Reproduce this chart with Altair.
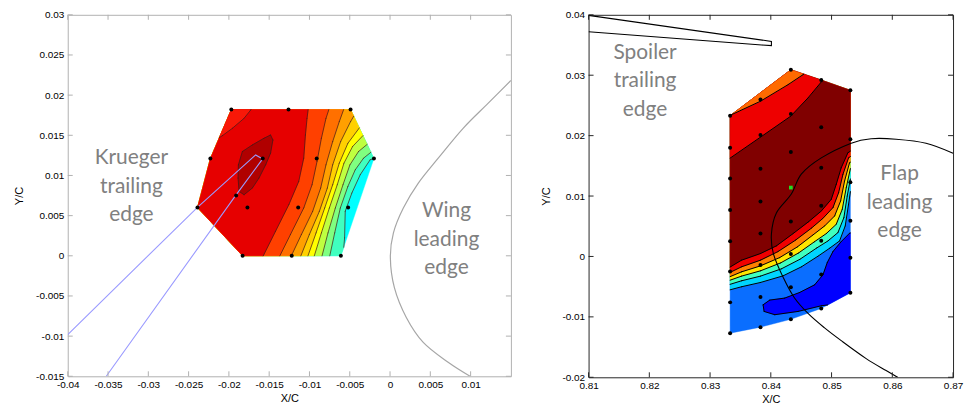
import altair as alt
import pandas as pd

# ======================= LEFT PANEL (Krueger / wing) =======================
L_X_DOMAIN = [-0.04, 0.015]
L_Y_DOMAIN = [-0.015, 0.03]
L_X_TICKS = [-0.04, -0.035, -0.03, -0.025, -0.02, -0.015, -0.01, -0.005, 0, 0.005, 0.01]
L_Y_TICKS = [-0.015, -0.01, -0.005, 0, 0.005, 0.01, 0.015, 0.02, 0.025, 0.03]

L_POINT_X = [-0.0197, -0.0126, -0.0049, -0.0223, -0.0158, -0.0091, -0.0020,
             -0.0239, -0.0177, -0.0114, -0.0052, -0.0183, -0.0122, -0.0061]
L_POINT_Y = [0.0182, 0.0182, 0.0182, 0.0121, 0.0121, 0.0121, 0.0121,
             0.0060, 0.0060, 0.0060, 0.0060, 0.0, 0.0, 0.0]
L_EXTRA_X = [-0.0191]
L_EXTRA_Y = [0.0075]

L1_X = [-0.01606, -0.01421, -0.01256, -0.01133, -0.01071, -0.01050, -0.01030, -0.01009]
L1_Y = [-0.00066, 0.00306, 0.00636, 0.00926, 0.01215, 0.01504, 0.01711, 0.01876]
L2_X = [-0.01400, -0.01236, -0.01071, -0.00968, -0.00906, -0.00852, -0.00795, -0.00741]
L2_Y = [-0.00066, 0.00265, 0.00595, 0.00884, 0.01174, 0.01463, 0.01711, 0.01876]
L3_X = [-0.01256, -0.01100, -0.00960, -0.00861, -0.00795, -0.00712, -0.00630, -0.00556]
L3_Y = [-0.00066, 0.00265, 0.00554, 0.00843, 0.01132, 0.01422, 0.01670, 0.01876]
L4_X = [-0.01133, -0.01001, -0.00877, -0.00778, -0.00712, -0.00613, -0.00490, -0.00370]
L4_Y = [-0.00066, 0.00265, 0.00554, 0.00843, 0.01132, 0.01422, 0.01670, 0.01876]
L5_X = [-0.01042, -0.00918, -0.00811, -0.00712, -0.00630, -0.00523, -0.00370, -0.00226]
L5_Y = [-0.00066, 0.00285, 0.00595, 0.00884, 0.01153, 0.01401, 0.01607, 0.01731]
L6_X = [-0.00960, -0.00852, -0.00753, -0.00655, -0.00572, -0.00465, -0.00329, -0.00185]
L6_Y = [-0.00066, 0.00285, 0.00595, 0.00884, 0.01153, 0.01360, 0.01504, 0.01587]
L7_X = [-0.00861, -0.00770, -0.00679, -0.00584, -0.00498, -0.00391, -0.00267, -0.00123]
L7_Y = [-0.00066, 0.00285, 0.00595, 0.00884, 0.01132, 0.01298, 0.01401, 0.01463]
L8_X = [-0.00762, -0.00687, -0.00617, -0.00523, -0.00432, -0.00329, -0.00226, -0.00082]
L8_Y = [-0.00066, 0.00285, 0.00595, 0.00864, 0.01070, 0.01215, 0.01298, 0.01339]
L9_X = [-0.00589, -0.00564, -0.00556, -0.00474, -0.00370, -0.00247, -0.00061]
L9_Y = [-0.00066, 0.00223, 0.00554, 0.00781, 0.01009, 0.01195, 0.01257]
L_CORNER_X = [-0.02163, -0.02080, -0.01957, -0.01812, -0.01730, -0.01689]
L_CORNER_Y = [0.01442, 0.01496, 0.01587, 0.01711, 0.01814, 0.01897]
L_BLOB_X = [-0.01882, -0.01833, -0.01709, -0.01565, -0.01483, -0.01454, -0.01483,
            -0.01544, -0.01627, -0.01709, -0.01812, -0.01874, -0.01886]
L_BLOB_Y = [0.01132, 0.01298, 0.01380, 0.01463, 0.01504, 0.01442, 0.01277,
            0.01132, 0.00967, 0.00843, 0.00760, 0.00802, 0.00967]

L_BAND_COLORS = ["#00ffff", "#40ffbf", "#80ff80", "#bfff40", "#ffff00", "#ffd000",
                 "#ffa000", "#ff7000", "#ff4000", "#e60000"]
L_CORNER_COLOR = "#f81808"
L_BLOB_COLOR = "#b00000"

WING_X = [0.0150, 0.01216, 0.00907, 0.00598, 0.00351, 0.00165, 0.00042, 0.00004,
          0.00054, 0.00202, 0.00412, 0.00721, 0.00993]
WING_Y = [0.02182, 0.01897, 0.01587, 0.01215, 0.00905, 0.00595, 0.00285, -0.00025,
          -0.00397, -0.00768, -0.01078, -0.01326, -0.0150]
KRUEGER_UP_X = [-0.0400, -0.02390, -0.01668, -0.01581]
KRUEGER_UP_Y = [-0.0098, 0.00604, 0.01256, 0.01206]
KRUEGER_LO_X = [-0.03522, -0.01915, -0.01581]
KRUEGER_LO_Y = [-0.0150, 0.00753, 0.01206]

L_TEXT = ["Krueger", "trailing", "edge", "Wing", "leading", "edge"]
L_TEXT_X = [-0.0321, -0.0321, -0.0321, 0.0070, 0.0070, 0.0070]
L_TEXT_Y = [0.01215, 0.00862, 0.00508, 0.00554, 0.00202, -0.00149]

# ======================= RIGHT PANEL (spoiler / flap) =======================
R_X_DOMAIN = [0.81, 0.87]
R_Y_DOMAIN = [-0.02, 0.04]
R_X_TICKS = [0.81, 0.82, 0.83, 0.84, 0.85, 0.86, 0.87]
R_Y_TICKS = [-0.02, -0.01, 0, 0.01, 0.02, 0.03, 0.04]

R_POINT_X = ([0.8333] * 8 + [0.8383] * 8 + [0.8433] * 7 + [0.8483] * 7 + [0.8531] * 6)
R_POINT_Y = ([0.0233, 0.0180, 0.0129, 0.0077, 0.0025, -0.0025, -0.0076, -0.0127] +
             [0.0260, 0.0201, 0.0145, 0.0091, 0.0038, -0.0014, -0.0067, -0.0117] +
             [0.0309, 0.0236, 0.0173, 0.0058, 0.0004, -0.0051, -0.0104] +
             [0.0292, 0.0214, 0.0147, 0.0084, 0.0026, -0.0030, -0.0086] +
             [0.0275, 0.0194, 0.0123, 0.0059, -0.0002, -0.0060])
R_GREEN_X = [0.8433]
R_GREEN_Y = [0.0114]

R_TOP_O_X = [0.83299, 0.83829, 0.84284, 0.84530, 0.84612]
R_TOP_O_Y = [0.02321, 0.02569, 0.02844, 0.03009, 0.03064]
R_TOP_R_X = [0.83299, 0.83829, 0.84327, 0.84612, 0.84831, 0.84995]
R_TOP_R_Y = [0.01606, 0.01974, 0.02321, 0.02624, 0.02888, 0.03064]
D1_X = [0.83271, 0.83517, 0.83829, 0.84092, 0.84366, 0.84623, 0.84831, 0.84995, 0.85077, 0.85159, 0.85269, 0.85378]
D1_Y = [-0.00211, -0.00062, 0.00048, 0.00175, 0.00378, 0.00576, 0.00752, 0.00945, 0.01193, 0.01468, 0.01716, 0.01787]
D2_X = [0.83271, 0.83517, 0.83829, 0.84119, 0.84404, 0.84667, 0.84858, 0.85023, 0.85116, 0.85187, 0.85280, 0.85378]
D2_Y = [-0.00293, -0.00172, -0.00062, 0.00081, 0.00268, 0.00467, 0.00631, 0.00808, 0.01055, 0.01358, 0.01633, 0.01699]
D3_X = [0.83271, 0.83517, 0.83829, 0.84147, 0.84437, 0.84694, 0.84886, 0.85050, 0.85149, 0.85214, 0.85296, 0.85378]
D3_Y = [-0.00359, -0.00255, -0.00156, -0.00018, 0.00158, 0.00356, 0.00505, 0.00670, 0.00918, 0.01248, 0.01550, 0.01606]
D4_X = [0.83271, 0.83517, 0.83829, 0.84163, 0.84459, 0.84722, 0.84913, 0.85077, 0.85176, 0.85242, 0.85313, 0.85378]
D4_Y = [-0.00414, -0.00326, -0.00238, -0.00106, 0.00059, 0.00246, 0.00378, 0.00532, 0.00780, 0.01138, 0.01468, 0.01512]
D5_X = [0.83271, 0.83517, 0.83829, 0.84174, 0.84481, 0.84749, 0.84941, 0.85105, 0.85203, 0.85258, 0.85324, 0.85378]
D5_Y = [-0.00480, -0.00403, -0.00326, -0.00205, -0.00046, 0.00136, 0.00257, 0.00395, 0.00642, 0.01000, 0.01358, 0.01413]
D6_X = [0.83271, 0.83517, 0.83829, 0.84202, 0.84503, 0.84776, 0.84968, 0.85132, 0.85225, 0.85280, 0.85335, 0.85378]
D6_Y = [-0.00568, -0.00502, -0.00431, -0.00321, -0.00172, 0.00004, 0.00136, 0.00257, 0.00505, 0.00863, 0.01248, 0.01303]
R_BLOB_X = [0.83873, 0.83983, 0.84229, 0.84475, 0.84722, 0.84858, 0.84930, 0.85023, 0.85159, 0.85296,
            0.85488, 0.85488, 0.84831, 0.84448, 0.84065, 0.83890]
R_BLOB_Y = [-0.00800, -0.00722, -0.00689, -0.00596, -0.00469, -0.00304, -0.00100, 0.00081, 0.00246, 0.00384,
            0.00450, -0.00733, -0.00816, -0.00910, -0.00964, -0.00910]

R_BAND_COLORS = ["#0a6eff", "#00d4ff", "#40ffbf", "#ffe600", "#ff8000", "#f00000", "#800000"]
R_TOP_R_COLOR = "#ee0000"
R_TOP_O_COLOR = "#ff6a00"
R_BLOB_COLOR = "#0000ff"

SPOILER_X = [0.8100, 0.8401, 0.8401, 0.8385, 0.8100]
SPOILER_Y = [0.0399, 0.0356, 0.0349, 0.0350, 0.0372]
FLAP_X = [0.87000, 0.86555, 0.86063, 0.85652, 0.85324, 0.84831, 0.84502, 0.84338, 0.84092, 0.84010,
          0.84043, 0.84207, 0.84388, 0.84617, 0.84880, 0.85159, 0.85570, 0.85898, 0.86095]
FLAP_Y = [0.01710, 0.01875, 0.01941, 0.01949, 0.01875, 0.01632, 0.01363, 0.01033, 0.00720, 0.00373,
          0.00043, -0.00354, -0.00684, -0.00948, -0.01179, -0.01394, -0.01691, -0.01889, -0.02005]

R_TEXT = ["Spoiler", "trailing", "edge", "Flap", "leading", "edge"]
R_TEXT_X = [0.8193, 0.8193, 0.8193, 0.8612, 0.8612, 0.8612]
R_TEXT_Y = [0.03366, 0.02899, 0.02432, 0.01358, 0.00890, 0.00422]

# ======================= geometry helpers =======================
def cr(o, a, b):
    return (a[0] - o[0]) * (b[1] - o[1]) - (a[1] - o[1]) * (b[0] - o[0])


def convex_hull(pts):
    pts = sorted(set(pts))
    lower, upper = [], []
    for p in pts:
        while len(lower) >= 2 and cr(lower[-2], lower[-1], p) <= 0:
            lower.pop()
        lower.append(p)
    for p in reversed(pts):
        while len(upper) >= 2 and cr(upper[-2], upper[-1], p) <= 0:
            upper.pop()
        upper.append(p)
    return lower[:-1] + upper[:-1]


def clip_polygon(subject, hull):
    out = list(subject)
    n = len(hull)
    for i in range(n):
        a, b = hull[i], hull[(i + 1) % n]
        inp, out = out, []
        if not inp:
            break
        s = inp[-1]
        for e in inp:
            fe, fs = cr(a, b, e), cr(a, b, s)
            if fe >= 0:
                if fs < 0:
                    t = fs / (fs - fe)
                    out.append((s[0] + t * (e[0] - s[0]), s[1] + t * (e[1] - s[1])))
                out.append(e)
            elif fs >= 0:
                t = fs / (fs - fe)
                out.append((s[0] + t * (e[0] - s[0]), s[1] + t * (e[1] - s[1])))
            s = e
    return out


def clip_segment(p, q, hull):
    t0, t1 = 0.0, 1.0
    n = len(hull)
    for i in range(n):
        a, b = hull[i], hull[(i + 1) % n]
        fp, fq = cr(a, b, p), cr(a, b, q)
        if fp < 0 and fq < 0:
            return None
        if fp < 0:
            t0 = max(t0, fp / (fp - fq))
        elif fq < 0:
            t1 = min(t1, fp / (fp - fq))
    if t0 >= t1:
        return None
    return ((p[0] + t0 * (q[0] - p[0]), p[1] + t0 * (q[1] - p[1])),
            (p[0] + t1 * (q[0] - p[0]), p[1] + t1 * (q[1] - p[1])))


def left_side(xs, ys):
    pts = list(zip(xs, ys))
    return pts + [(xs[-1], 5), (-5, 5), (-5, -5), (xs[0], -5)]


def upper_side(xs, ys):
    pts = list(zip(xs, ys))
    return pts + [(5, ys[-1]), (5, 5), (-5, 5), (-5, ys[0])]


def segments(lines, hull):
    rows = []
    for xs, ys in lines:
        for i in range(len(xs) - 1):
            r = clip_segment((xs[i], ys[i]), (xs[i + 1], ys[i + 1]), hull)
            if r:
                rows.append({"x": r[0][0], "y": r[0][1], "x2": r[1][0], "y2": r[1][1]})
    return pd.DataFrame(rows)


# ======================= chart helpers =======================
FONT = "Liberation Sans"


def encs(xdom, ydom, xticks, yticks, ytitle_pad):
    ax = alt.Axis(values=xticks, labelExpr="'' + datum.value", ticks=False, domain=False, grid=False,
                  labelPadding=3, titlePadding=3, title="X/C", labelFlush=False, labelOverlap=False,
                  titleFontWeight=400)
    ay = alt.Axis(values=yticks, labelExpr="'' + datum.value", ticks=False, domain=False, grid=False,
                  labelPadding=4, titlePadding=ytitle_pad, title="Y/C", labelOverlap=False,
                  titleFontWeight=400)
    X = alt.X("x:Q", scale=alt.Scale(domain=xdom, nice=False, zero=False), axis=ax)
    Y = alt.Y("y:Q", scale=alt.Scale(domain=ydom, nice=False, zero=False), axis=ay)
    return X, Y


def poly_layer(pts, color, X, Y):
    pts = list(pts) + [pts[0]]
    df = pd.DataFrame({"x": [p[0] for p in pts], "y": [p[1] for p in pts], "i": range(len(pts))})
    return alt.Chart(df).mark_line(fill=color, stroke=color, strokeWidth=0.4, strokeJoin="round").encode(
        x=X, y=Y, order="i:Q")


def curve_layer(xs, ys, color, width, X, Y, interp="linear"):
    df = pd.DataFrame({"x": xs, "y": ys, "i": range(len(xs))})
    return alt.Chart(df).mark_line(color=color, strokeWidth=width, clip=True, interpolate=interp).encode(
        x=X, y=Y, order="i:Q")


def tick_layer(xdom, ydom, xticks, yticks, w, h, color, X, Y):
    lx = (xdom[1] - xdom[0]) * 5 / w
    ly = (ydom[1] - ydom[0]) * 5 / h
    rows = []
    for t in xticks:
        rows.append({"x": t, "x2": t, "y": ydom[0], "y2": ydom[0] + ly})
        rows.append({"x": t, "x2": t, "y": ydom[1], "y2": ydom[1] - ly})
    for t in yticks:
        rows.append({"x": xdom[0], "x2": xdom[0] + lx, "y": t, "y2": t})
        rows.append({"x": xdom[1], "x2": xdom[1] - lx, "y": t, "y2": t})
    df = pd.DataFrame(rows)
    return alt.Chart(df).mark_rule(color=color, strokeWidth=1).encode(x=X, y=Y, x2="x2:Q", y2="y2:Q")


def text_layer(texts, xs, ys, X, Y):
    df = pd.DataFrame({"x": xs, "y": ys, "t": texts})
    return alt.Chart(df).mark_text(font="Lato", fontSize=21, color="#808080", align="center",
                                   baseline="middle").encode(x=X, y=Y, text="t:N")


def points_layer(xs, ys, color, size, shape, X, Y):
    df = pd.DataFrame({"x": xs, "y": ys})
    return alt.Chart(df).mark_point(filled=True, color=color, size=size, shape=shape, opacity=1).encode(x=X, y=Y)


# ======================= left panel =======================
LW, LH = 445, 363
LX, LY = encs(L_X_DOMAIN, L_Y_DOMAIN, L_X_TICKS, L_Y_TICKS, 11)
l_hull = convex_hull(list(zip(L_POINT_X, L_POINT_Y)))
l_lines = [(L9_X, L9_Y), (L8_X, L8_Y), (L7_X, L7_Y), (L6_X, L6_Y), (L5_X, L5_Y),
           (L4_X, L4_Y), (L3_X, L3_Y), (L2_X, L2_Y), (L1_X, L1_Y)]
left_layers = [poly_layer(l_hull, L_BAND_COLORS[0], LX, LY)]
for k, (xs, ys) in enumerate(l_lines):
    left_layers.append(poly_layer(clip_polygon(left_side(xs, ys), l_hull), L_BAND_COLORS[k + 1], LX, LY))
corner = clip_polygon(list(zip(L_CORNER_X, L_CORNER_Y)) + [(L_CORNER_X[-1], 5), (-5, 5), (-5, L_CORNER_Y[0])], l_hull)
left_layers.append(poly_layer(corner, L_CORNER_COLOR, LX, LY))
left_layers.append(poly_layer(clip_polygon(list(zip(L_BLOB_X, L_BLOB_Y)), l_hull), L_BLOB_COLOR, LX, LY))
l_seg = segments(l_lines + [(L_CORNER_X, L_CORNER_Y), (L_BLOB_X + L_BLOB_X[:1], L_BLOB_Y + L_BLOB_Y[:1])], l_hull)
left_layers.append(alt.Chart(l_seg).mark_rule(color="#3a1a1a", strokeWidth=0.7, strokeCap="round").encode(
    x=LX, y=LY, x2="x2:Q", y2="y2:Q"))
left_layers.append(curve_layer(WING_X, WING_Y, "#a6a6a6", 1.2, LX, LY, "cardinal"))
left_layers.append(curve_layer(KRUEGER_UP_X, KRUEGER_UP_Y, "#9a9aff", 1.1, LX, LY))
left_layers.append(curve_layer(KRUEGER_LO_X, KRUEGER_LO_Y, "#9a9aff", 1.1, LX, LY))
left_layers.append(points_layer(L_POINT_X + L_EXTRA_X, L_POINT_Y + L_EXTRA_Y, "black", 16, "circle", LX, LY))
left_layers.append(text_layer(L_TEXT, L_TEXT_X, L_TEXT_Y, LX, LY))
left_layers.append(tick_layer(L_X_DOMAIN, L_Y_DOMAIN, L_X_TICKS, L_Y_TICKS, LW, LH, "#b0b0b0", LX, LY))
left = alt.layer(*left_layers).properties(
    width=LW, height=LH, view=alt.ViewBackground(stroke="#b0b0b0", strokeWidth=1))

# ======================= right panel =======================
RW, RH = 366, 364
RX, RY = encs(R_X_DOMAIN, R_Y_DOMAIN, R_X_TICKS, R_Y_TICKS, 10)
r_hull = convex_hull(list(zip(R_POINT_X + R_GREEN_X, R_POINT_Y + R_GREEN_Y)))
r_lines = [(D6_X, D6_Y), (D5_X, D5_Y), (D4_X, D4_Y), (D3_X, D3_Y), (D2_X, D2_Y), (D1_X, D1_Y)]
right_layers = [poly_layer(r_hull, R_BAND_COLORS[0], RX, RY)]
for k, (xs, ys) in enumerate(r_lines):
    right_layers.append(poly_layer(clip_polygon(upper_side(xs, ys), r_hull), R_BAND_COLORS[k + 1], RX, RY))
right_layers.append(poly_layer(clip_polygon(upper_side(R_TOP_R_X, R_TOP_R_Y), r_hull), R_TOP_R_COLOR, RX, RY))
right_layers.append(poly_layer(clip_polygon(upper_side(R_TOP_O_X, R_TOP_O_Y), r_hull), R_TOP_O_COLOR, RX, RY))
right_layers.append(poly_layer(clip_polygon(list(zip(R_BLOB_X, R_BLOB_Y)), r_hull), R_BLOB_COLOR, RX, RY))
r_seg = segments(r_lines + [(R_TOP_R_X, R_TOP_R_Y), (R_TOP_O_X, R_TOP_O_Y),
                            (R_BLOB_X + R_BLOB_X[:1], R_BLOB_Y + R_BLOB_Y[:1])], r_hull)
right_layers.append(alt.Chart(r_seg).mark_rule(color="black", strokeWidth=1, strokeCap="round").encode(
    x=RX, y=RY, x2="x2:Q", y2="y2:Q"))
right_layers.append(curve_layer(FLAP_X, FLAP_Y, "black", 1.1, RX, RY, "cardinal"))
right_layers.append(curve_layer(SPOILER_X, SPOILER_Y, "black", 1.1, RX, RY))
right_layers.append(points_layer(R_POINT_X, R_POINT_Y, "black", 16, "circle", RX, RY))
right_layers.append(points_layer(R_GREEN_X, R_GREEN_Y, "#22dd22", 14, "square", RX, RY))
right_layers.append(text_layer(R_TEXT, R_TEXT_X, R_TEXT_Y, RX, RY))
right_layers.append(tick_layer(R_X_DOMAIN, R_Y_DOMAIN, R_X_TICKS, R_Y_TICKS, RW, RH, "#262626", RX, RY))
right = alt.layer(*right_layers).properties(
    width=RW, height=RH, view=alt.ViewBackground(stroke="#262626", strokeWidth=1))

chart = alt.hconcat(left, right, spacing=28).properties(
    padding={"left": 5, "top": 0, "right": 0, "bottom": 0}
).configure_axis(
    labelFont=FONT, labelFontSize=11, labelColor="#333333",
    titleFont=FONT, titleFontSize=12, titleFontWeight="normal", titleColor="#333333",
).configure(background="white")

chart.save("out.html", embed_options={"renderer": "svg", "actions": False})
